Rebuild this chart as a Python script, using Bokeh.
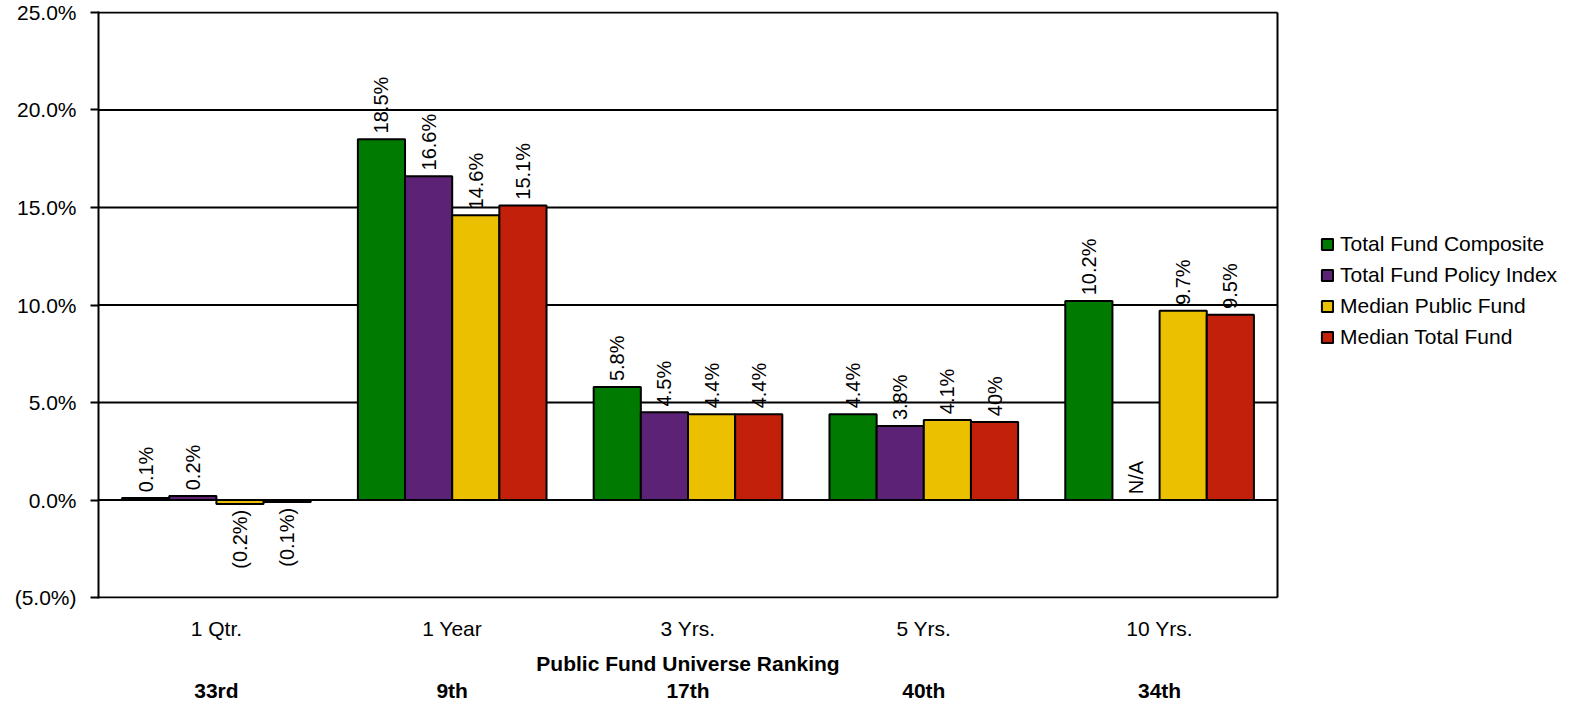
import numpy as np
from bokeh.plotting import figure
from bokeh.models import Range1d, FixedTicker, LinearAxis, Legend, LegendItem, ColumnDataSource
from bokeh.core.properties import value
from bokeh.embed import file_html
from bokeh.resources import INLINE

# ---------------- data ----------------
categories = ["1 Qtr.", "1 Year", "3 Yrs.", "5 Yrs.", "10 Yrs."]
rankings = ["33rd", "9th", "17th", "40th", "34th"]
series_names = ["Total Fund Composite", "Total Fund Policy Index",
                "Median Public Fund", "Median Total Fund"]
composite = [0.1, 18.5, 5.8, 4.4, 10.2]
policy_index = [0.2, 16.6, 4.5, 3.8, None]
median_public = [-0.2, 14.6, 4.4, 4.1, 9.7]
median_total = [-0.1, 15.1, 4.4, 4.0, 9.5]
composite_labels = ["0.1%", "18.5%", "5.8%", "4.4%", "10.2%"]
policy_index_labels = ["0.2%", "16.6%", "4.5%", "3.8%", "N/A"]
median_public_labels = ["(0.2%)", "14.6%", "4.4%", "4.1%", "9.7%"]
median_total_labels = ["(0.1%)", "15.1%", "4.4%", "40%", "9.5%"]
y_ticks = [-5, 0, 5, 10, 15, 20, 25]
y_tick_labels = ["(5.0%)", "0.0%", "5.0%", "10.0%", "15.0%", "20.0%", "25.0%"]
x_title = "Public Fund Universe Ranking"

# ---------------- style ----------------
colors = ["#007A00", "#5C2275", "#EBC000", "#C2200B"]
FONT = "Liberation Sans"
W, H = 1573, 704
LEFT, PLOT_RIGHT, TOP = 98, 1277, 11
n = len(categories)
# extend the x range to the right so the legend sits inside the frame
x_end = n * (W - LEFT) / (PLOT_RIGHT - LEFT)
y_pad = 0.05

p = figure(width=W, height=H, output_backend="svg", toolbar_location=None,
           x_range=Range1d(0, x_end), y_range=Range1d(y_ticks[0] - y_pad, y_ticks[-1] + y_pad),
           min_border_left=LEFT, min_border_right=0, min_border_top=TOP,
           min_border_bottom=105)
p.outline_line_color = None
p.xgrid.visible = False
p.ygrid.visible = False

# horizontal grid lines and right border of the plot area
p.segment(x0=[0] * len(y_ticks), x1=[n] * len(y_ticks), y0=y_ticks, y1=y_ticks,
          line_color="black", line_width=2, level="underlay")
p.segment(x0=[n], x1=[n], y0=[y_ticks[0]], y1=[y_ticks[-1]],
          line_color="black", line_width=2, level="underlay")

# y axis
ya = p.yaxis[0]
ya.ticker = FixedTicker(ticks=y_ticks)
ya.major_label_overrides = {t: l for t, l in zip(y_ticks, y_tick_labels)}
ya.axis_line_color = "black"
ya.axis_line_width = 2
ya.major_tick_line_color = "black"
ya.major_tick_line_width = 2
ya.major_tick_out = 8
ya.major_tick_in = 0
ya.minor_tick_out = 0
ya.minor_tick_in = 0
ya.major_label_standoff = 14
ya.major_label_text_font = FONT
ya.major_label_text_font_size = "21px"
ya.major_label_text_color = "black"

x_centers = np.arange(n) + 0.5


def plain_axis(ax, standoff, bold):
    ax.axis_line_color = None
    ax.major_tick_out = 0
    ax.major_tick_in = 0
    ax.minor_tick_out = 0
    ax.minor_tick_in = 0
    ax.major_label_standoff = standoff
    ax.major_label_text_font = FONT
    ax.major_label_text_font_size = "21px"
    ax.major_label_text_font_style = "bold" if bold else "normal"
    ax.major_label_text_color = "black"


# x axis 1: categories
xa = p.xaxis[0]
xa.ticker = FixedTicker(ticks=list(x_centers))
xa.major_label_overrides = {float(x): c for x, c in zip(x_centers, categories)}
plain_axis(xa, 18, False)

# x axis 2: title centred under the plot area
mid = n / 2
xt = LinearAxis(ticker=FixedTicker(ticks=[mid]), major_label_overrides={float(mid): x_title})
plain_axis(xt, 9, True)
p.add_layout(xt, "below")

# x axis 3: rankings
xb = LinearAxis(ticker=FixedTicker(ticks=list(x_centers)),
                major_label_overrides={float(x): r for x, r in zip(x_centers, rankings)})
plain_axis(xb, 1, True)
p.add_layout(xb, "below")

# bars
all_vals = [composite, policy_index, median_public, median_total]
all_labels = [composite_labels, policy_index_labels, median_public_labels, median_total_labels]
offsets = [-0.3, -0.1, 0.1, 0.3]
bar_w = 0.2
gap = 0.3
items = []
pos = dict(x=[], y=[], t=[])
neg = dict(x=[], y=[], t=[])
for vals, labs, col, name, off in zip(all_vals, all_labels, colors, series_names, offsets):
    v = np.array([np.nan if a is None else a for a in vals], dtype=float)
    xs = x_centers + off
    r = p.vbar(x=xs, top=v, bottom=0, width=bar_w, fill_color=col,
               line_color="black", line_width=2)
    items.append(LegendItem(label=name, renderers=[r]))
    for xx, vv, tt in zip(xs, v, labs):
        if np.isnan(vv):
            pos["x"].append(xx); pos["y"].append(0 + gap); pos["t"].append(tt)
        elif vv >= 0:
            pos["x"].append(xx); pos["y"].append(vv + gap); pos["t"].append(tt)
        else:
            neg["x"].append(xx); neg["y"].append(vv - gap); neg["t"].append(tt)

p.text(x="x", y="y", text="t", source=ColumnDataSource(pos), angle=np.pi / 2,
       text_align="left", text_baseline="middle", text_font=value(FONT),
       text_font_size="20px", text_color="black")
p.text(x="x", y="y", text="t", source=ColumnDataSource(neg), angle=np.pi / 2,
       text_align="right", text_baseline="middle", text_font=value(FONT),
       text_font_size="20px", text_color="black")

legend = Legend(items=items, location=(1222, 249), orientation="vertical",
                border_line_color=None, background_fill_alpha=0,
                glyph_width=14, glyph_height=14, label_text_font=FONT,
                label_text_font_size="21px", label_text_color="black",
                label_standoff=6, spacing=7, padding=0, margin=0, label_height=20)
p.add_layout(legend)

open("out.html", "w").write(file_html(p, INLINE))
